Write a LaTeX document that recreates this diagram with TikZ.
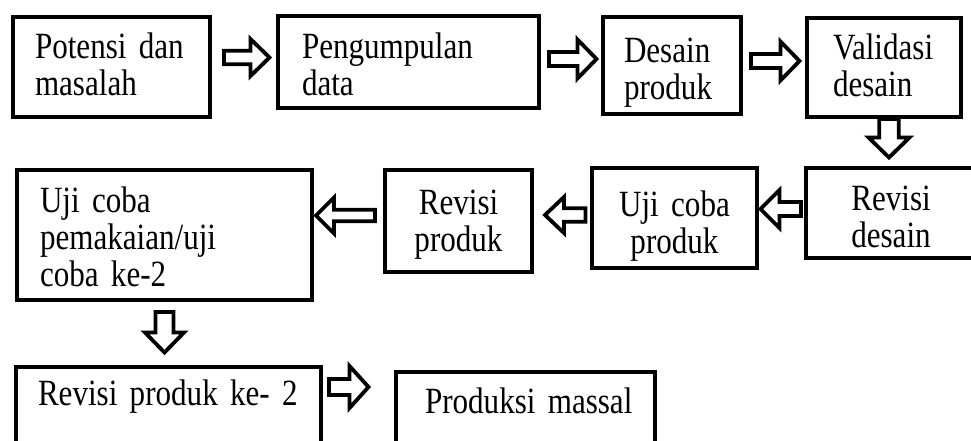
\documentclass[tikz,border=0pt]{standalone}
\usepackage{fontspec}
\setmainfont{Liberation Serif}[FakeStretch=0.84,WordSpace=0.82]
\usetikzlibrary{calc}
\newcommand\ind[1]{\hspace*{#1}}
\tikzset{
  boxnode/.style={draw=black, line width=4pt, anchor=north west, outer sep=0pt,
    inner xsep=0pt, inner ysep=0pt, line join=miter,
    font=\fontsize{37}{37}\selectfont},
  barrow/.style={draw=black, line width=3.8pt, fill=white, line join=miter},
}
\newcommand\barr[5]{%
  \coordinate (#2hb) at ($(#2)!#5!(#1)$);
  \draw[barrow] ($(#1)!#3!90:(#2)$) -- ($(#2hb)!#3!90:(#2)$) -- ($(#2hb)!#4!90:(#2)$)
    -- (#2) -- ($(#2hb)!#4!-90:(#2)$) -- ($(#2hb)!#3!-90:(#2)$) -- ($(#1)!#3!-90:(#2)$) -- cycle;}
\begin{document}
\begin{tikzpicture}[x=1pt,y=-1pt]
\useasboundingbox (0,0) rectangle (971,441);
\clip (0,0) rectangle (971,441);
% row 1
\node[boxnode, text width=197pt, align=left, text height=42pt, text depth=58pt] (b1) at (13,17)
  {\ind{22pt}Potensi dan\\\ind{22pt}masalah};
\node[boxnode, text width=261pt, align=left, text height=43pt, text depth=49pt] (b2) at (278,16)
  {\ind{24pt}Pengumpulan\\\ind{24pt}data};
\node[boxnode, text width=138pt, align=left, text height=46pt, text depth=51pt] (b3) at (603,17)
  {\ind{21pt}Desain\\\ind{21pt}produk};
\node[boxnode, text width=154pt, align=left, text height=42pt, text depth=57pt] (b4) at (807,18)
  {\ind{26pt}Validasi\\\ind{26pt}desain};
% row 2
\node[boxnode, text width=170pt, align=center, text height=42pt, text depth=48pt] (b5) at (806,168)
  {Revisi\\desain};
\node[boxnode, text width=165pt, align=center, text height=48pt, text depth=52pt] (b6) at (592,168)
  {Uji coba\\produk};
\node[boxnode, text width=147pt, align=center, text height=44pt, text depth=58pt] (b7) at (385,170)
  {Revisi\\produk};
\node[boxnode, text width=295pt, align=left, text height=42pt, text depth=88pt] (b8) at (17,170)
  {\ind{23pt}Uji coba\\\ind{23pt}pemakaian/uji\\\ind{23pt}coba ke-2};
% row 3
\node[boxnode, text width=305pt, align=left, text height=38pt, text depth=70pt] (b9) at (16,367)
  {\ind{22pt}Revisi produk ke- 2};
\node[boxnode, text width=259pt, align=left, text height=41pt, text depth=60pt] (b10) at (396,372)
  {\ind{29pt}Produksi massal};
% arrows
\coordinate (a1s) at (224,57.5);  \coordinate (a1e) at (269.5,57.5);
\coordinate (a2s) at (549,59);    \coordinate (a2e) at (596.5,59);
\coordinate (a3s) at (751,61);    \coordinate (a3e) at (799.5,61);
\coordinate (a4s) at (889,119);   \coordinate (a4e) at (889,157.5);
\coordinate (a5s) at (801,209);   \coordinate (a5e) at (760.5,209);
\coordinate (a6s) at (585.5,215); \coordinate (a6e) at (545,215);
\coordinate (a7s) at (375,215.5); \coordinate (a7e) at (316,215.5);
\coordinate (a8s) at (164.5,312); \coordinate (a8e) at (164.5,352.5);
\coordinate (a9s) at (329,387);   \coordinate (a9e) at (368.5,387);
\barr{a1s}{a1e}{6.7pt}{18.5pt}{19pt}
\barr{a2s}{a2e}{7pt}{19.5pt}{19pt}
\barr{a3s}{a3e}{7pt}{19.5pt}{19pt}
\barr{a4s}{a4e}{9.7pt}{20.5pt}{20pt}
\barr{a5s}{a5e}{7pt}{19pt}{19pt}
\barr{a6s}{a6e}{6.7pt}{18pt}{19pt}
\barr{a7s}{a7e}{5.8pt}{18pt}{18pt}
\barr{a8s}{a8e}{9pt}{19.5pt}{20pt}
\barr{a9s}{a9e}{8pt}{21pt}{19pt}
\end{tikzpicture}
\end{document}
